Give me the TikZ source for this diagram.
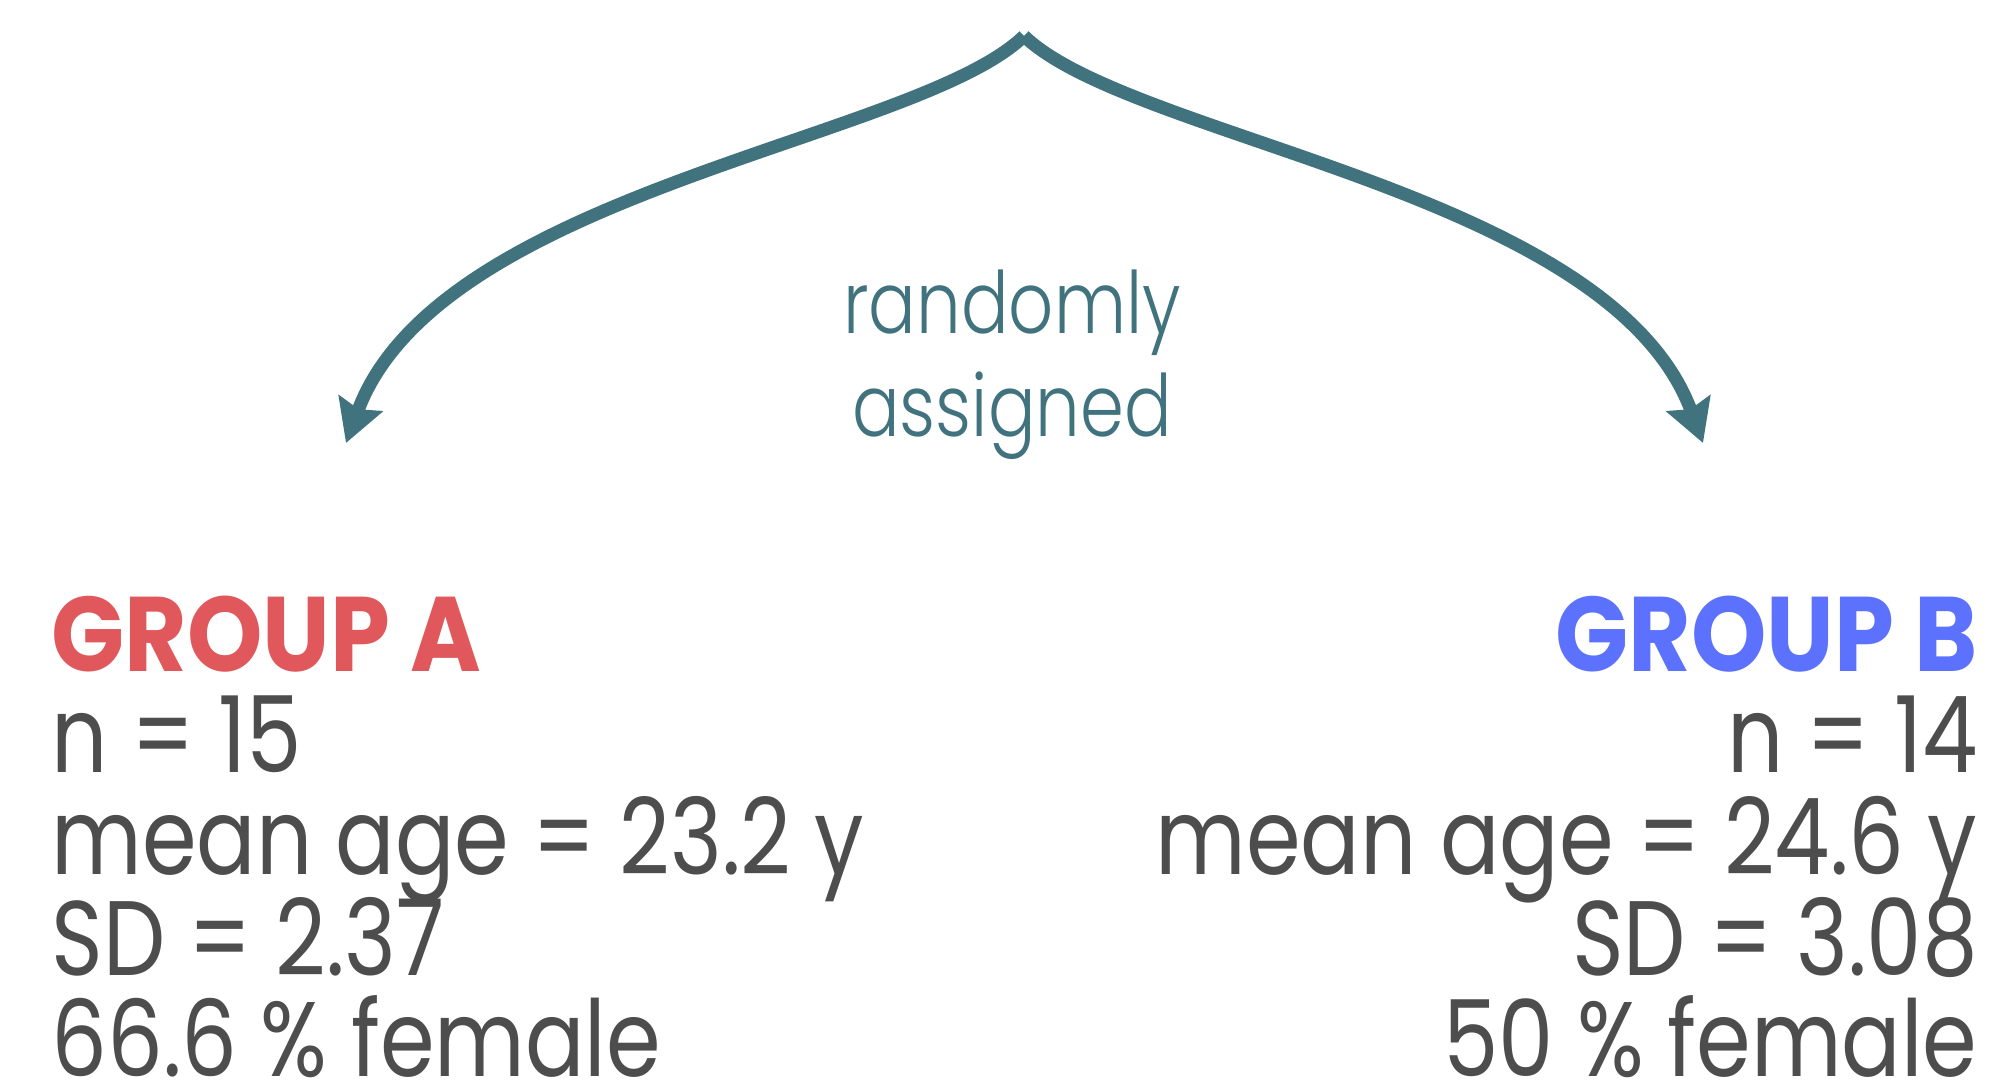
\documentclass[tikz,border=0pt]{standalone}
\usepackage{fontspec}
\setmainfont{Poppins}[FakeStretch=0.83,BoldFeatures={FakeStretch=0.905}]
\newfontfamily\lightfont{Poppins Light}[FakeStretch=0.82]
\usetikzlibrary{arrows.meta}
\definecolor{teal}{HTML}{41737F}
\definecolor{grpred}{HTML}{E0585B}
\definecolor{grpblue}{HTML}{5C71FE}
\definecolor{txtgray}{HTML}{4D4D4D}

\begin{document}
\begin{tikzpicture}[x=0.5pt,y=0.5pt,
  branch/.style={teal,line width=6.5pt,-{Stealth[length=21pt,width=23pt,inset=3pt]}},
  stat/.style={txtgray,inner sep=0pt,font=\fontsize{53}{53}\selectfont},
  grp/.style={inner sep=0pt,font=\fontsize{53}{53}\selectfont\bfseries}]
  \useasboundingbox (0,0) rectangle (1997,1088);
  \coordinate (top) at (1024,1052);
  \coordinate (tipA) at (346,645);
  \coordinate (tipB) at (1703,645);
  \draw[branch] (top) .. controls (917,948) and (439,897) .. (tipA);
  \draw[branch] (top) .. controls (1132,948) and (1610,897) .. (tipB);
  \node[teal,inner sep=0pt,font=\fontsize{43}{43}\lightfont,anchor=base] (rand) at (1012,754) {randomly};
  \node[teal,inner sep=0pt,font=\fontsize{43}{43}\lightfont,anchor=base] (assig) at (1012,651) {assigned};
  \node[grp,grpred,anchor=base west] (groupA) at (51,416) {GROUP A};
  \node[grp,grpblue,anchor=base east] (groupB) at (1978,416) {GROUP B};
  \foreach \t [count=\i] in {n = 15,mean age = 23.2 y,SD = 2.37,66.6 \% female}
    \node[stat,anchor=base west] (a\i) at (51,416-101*\i) {\t};
  \foreach \t [count=\i] in {n = 14,mean age = 24.6 y,SD = 3.08,50 \% female}
    \node[stat,anchor=base east] (b\i) at (1978,416-101*\i) {\t};
\end{tikzpicture}
\end{document}
